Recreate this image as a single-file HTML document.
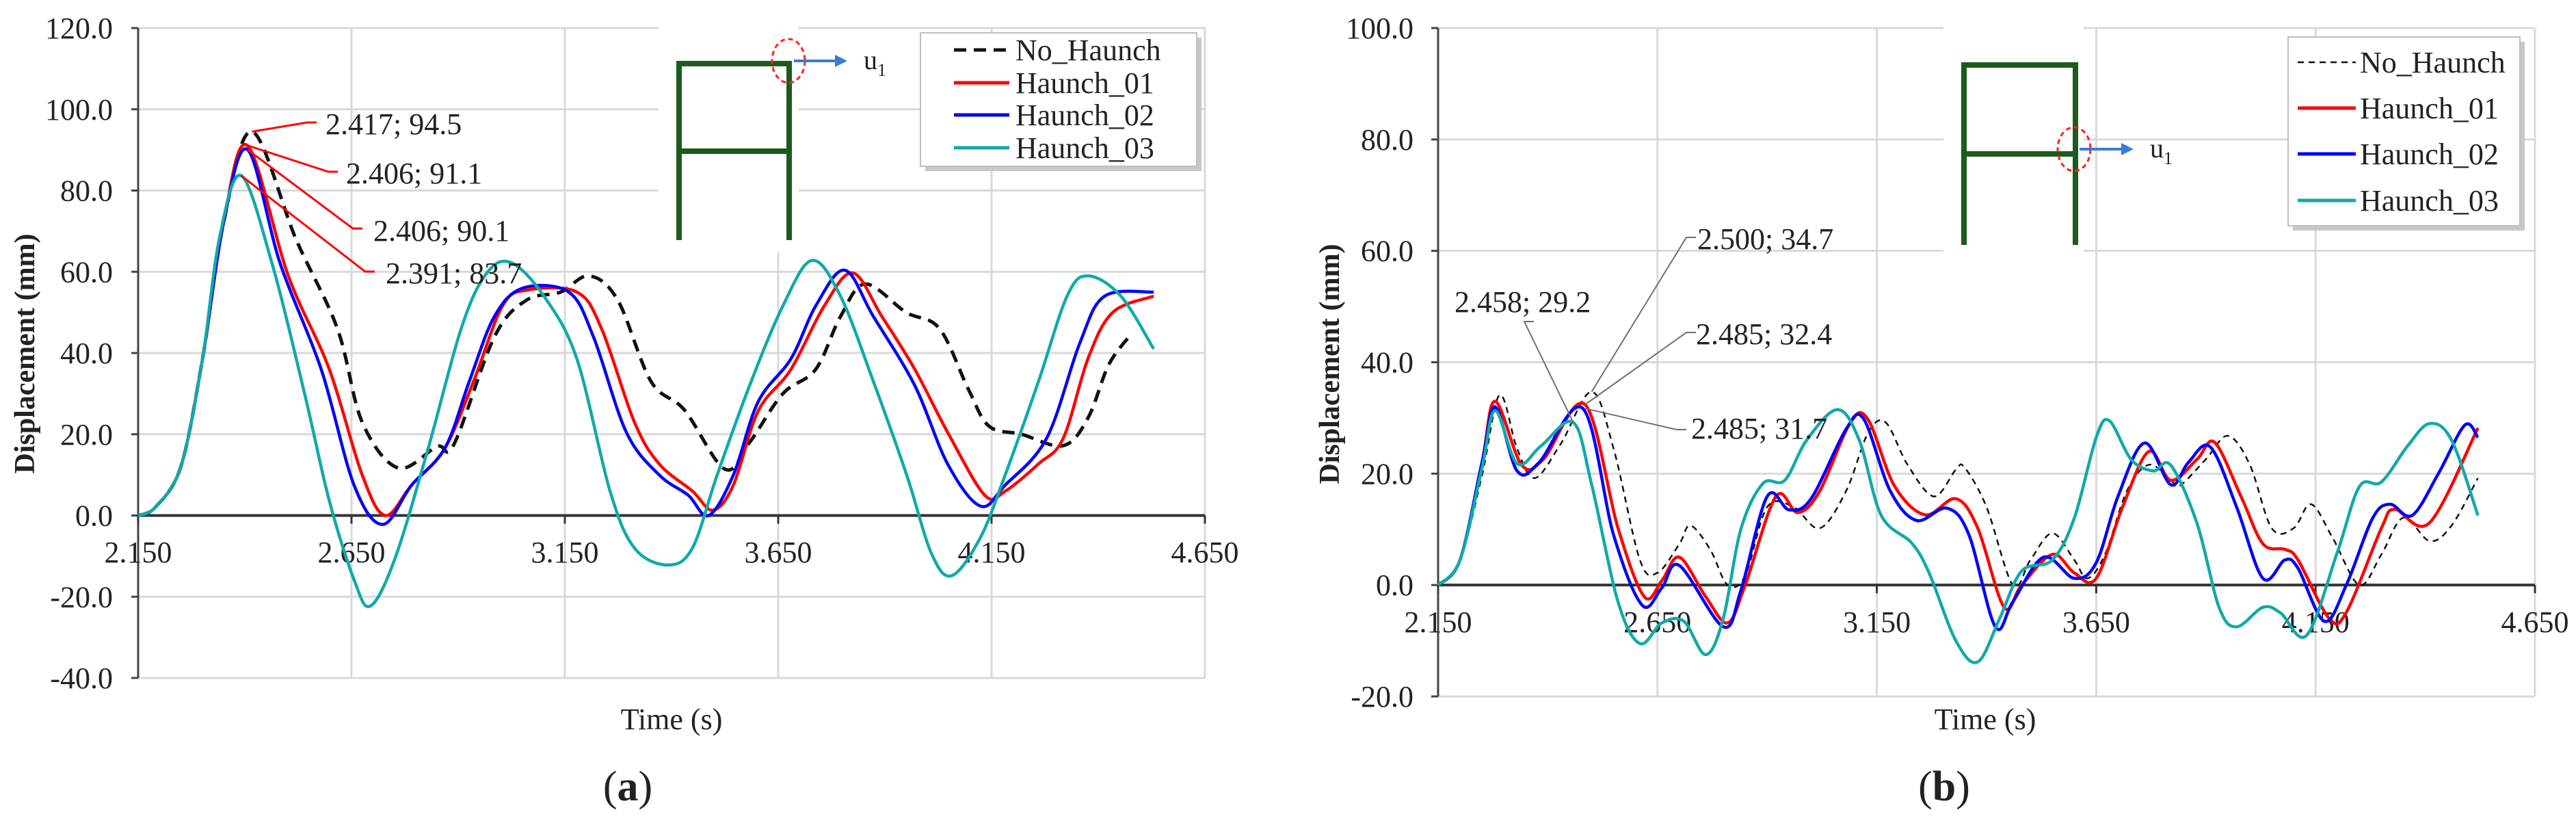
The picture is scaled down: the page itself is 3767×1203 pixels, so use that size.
<!DOCTYPE html>
<html><head><meta charset="utf-8"><style>
html,body{margin:0;padding:0;background:#fff;}
svg{display:block;font-family:"Liberation Serif","DejaVu Serif",serif;}
svg text, svg tspan{font-family:"Liberation Serif","DejaVu Serif",serif;fill:#222;}
</style></head><body>
<svg id="fig" width="3767" height="1203" viewBox="0 0 3767 1203" xmlns="http://www.w3.org/2000/svg" font-family="Liberation Serif, DejaVu Serif, serif"></svg>
<script>
// ---------- Chart (a) data ----------
const xTicks = [2.150, 2.650, 3.150, 3.650, 4.150, 4.650];
const xTickLabels = ["2.150","2.650","3.150","3.650","4.150","4.650"];
const seriesNames = ["No_Haunch","Haunch_01","Haunch_02","Haunch_03"];

const aYTicks = [-40,-20,0,20,40,60,80,100,120];
const aNoT = [2.15,2.19,2.25,2.30,2.35,2.417,2.52,2.617,2.675,2.759,2.85,2.89,2.985,3.06,3.14,3.207,3.274,3.352,3.43,3.525,3.583,3.661,3.738,3.796,3.854,3.95,4.028,4.096,4.144,4.22,4.318,4.376,4.424,4.472];
const aNoV = [0,2,12,38,72,94.5,68,46,23,11.7,17,17.5,44,53,55,59,53,33,26,11.4,18,30,36,49,57,50,46,31,22,20,17.2,24,37,44];
const aH1T = [2.15,2.19,2.25,2.30,2.35,2.406,2.502,2.598,2.675,2.729,2.791,2.869,2.936,3.004,3.062,3.178,3.236,3.313,3.371,3.449,3.497,3.545,3.603,3.68,3.758,3.825,3.893,3.97,4.047,4.134,4.182,4.26,4.318,4.376,4.434,4.53];
const aH1V = [0,2,12,38,72,91.1,59,36,10,0,7.5,16.6,33,51.6,55.5,55,46,23,12.7,6,1.3,7.5,25.7,36,51.6,59.7,49,36,20.5,5,6,12.7,19,38.6,50,54];
const aH2T = [2.15,2.19,2.25,2.30,2.35,2.406,2.483,2.579,2.656,2.723,2.791,2.869,2.926,2.985,3.052,3.159,3.217,3.294,3.371,3.439,3.487,3.545,3.603,3.68,3.738,3.806,3.873,3.97,4.047,4.124,4.182,4.279,4.357,4.415,4.53];
const aH2V = [0,2,12,38,72,90.1,62,36,7.5,-2.2,7.5,16.6,33,49,56,55,44,20.5,10,5,0,10,28,38.6,51.6,60.4,49,32,12.7,2.3,7.5,19,42.5,54,55];
const aH3T = [2.15,2.19,2.25,2.30,2.34,2.391,2.464,2.541,2.598,2.656,2.694,2.752,2.83,2.907,2.965,3.023,3.101,3.178,3.256,3.313,3.391,3.449,3.507,3.583,3.661,3.729,3.796,3.873,3.951,4.009,4.057,4.124,4.182,4.26,4.327,4.376,4.453,4.53];
const aH3V = [0,2,12,38,68,83.7,62,29.6,3.6,-15.8,-22.3,-10.6,16.6,46,59.4,62.3,54,38.6,6,-8,-12.2,-8,10,32,51.6,62.8,54,33,10,-9.3,-14.8,-5.4,10,33,54,59,54,41];
const aAnnT = [2.417,2.406,2.406,2.391];
const aAnnV = [94.5,91.1,90.1,83.7];
const aAnnLabels = ["2.417; 94.5","2.406; 91.1","2.406; 90.1","2.391; 83.7"];

// ---------- Chart (b) data ----------
const bYTicks = [-20,0,20,40,60,80,100];
const bNoT = [2.15,2.2,2.25,2.29,2.33,2.37,2.43,2.50,2.55,2.61,2.65,2.70,2.725,2.77,2.81,2.85,2.90,2.96,3.02,3.08,3.13,3.17,3.22,3.28,3.33,3.35,3.40,3.46,3.50,3.55,3.60,3.63,3.67,3.72,3.77,3.82,3.84,3.90,3.95,4.00,4.05,4.10,4.14,4.19,4.25,4.30,4.35,4.41,4.46,4.52];
const bNoV = [0,4.5,19.7,34.1,24.5,19.2,25.4,34.7,24.5,4.5,2.2,7.4,10.7,6.4,0,1.7,14,14,10.2,16.9,27.3,29.2,21.6,15.9,20.7,21.1,14,0,4.5,9.3,4.5,1.2,5.5,16.9,21.6,18.8,17.8,22.6,26.8,21.6,10.2,10.2,14.5,8.3,0,5.5,12.1,7.9,10.7,19.2];
const bH1T = [2.15,2.2,2.25,2.28,2.34,2.39,2.485,2.56,2.62,2.66,2.70,2.76,2.81,2.85,2.92,2.97,3.02,3.09,3.13,3.19,3.26,3.33,3.38,3.44,3.48,3.55,3.60,3.65,3.71,3.77,3.82,3.88,3.92,3.98,4.03,4.08,4.11,4.18,4.22,4.30,4.33,4.41,4.52];
const bH1V = [0,4.5,22,33,21.6,22.6,32.4,10.2,-2.1,0.8,5,-2.1,-6.8,0,15.9,13,16.9,29.2,29.7,17.8,12.6,15.5,10.2,-4,0,5.5,2.2,1.2,14,24,18.8,22.6,25.6,15.9,7.4,6.4,4.5,-5.9,-4.9,10.2,13.6,11.2,28.2];
const bH2T = [2.15,2.2,2.25,2.28,2.33,2.38,2.48,2.55,2.615,2.66,2.70,2.80,2.84,2.90,2.95,3.00,3.08,3.12,3.18,3.24,3.31,3.36,3.42,3.46,3.53,3.60,3.65,3.70,3.76,3.82,3.86,3.91,3.97,4.03,4.08,4.11,4.17,4.22,4.28,4.32,4.37,4.43,4.49,4.52];
const bH2V = [0,4.5,22,32,20.5,22,31.7,9,-3.6,-0.5,3.5,-7.5,-1,15.9,13.5,15.5,28,29.8,17,11.6,13.8,9,-7.5,-3,5,1.2,4,16,25.5,18,22,24.8,14,1.2,4.5,3,-6.5,0,12,14.5,12.5,20,28.7,26.5];
const bH3T = [2.15,2.2,2.25,2.28,2.33,2.385,2.458,2.50,2.56,2.61,2.66,2.71,2.76,2.80,2.84,2.89,2.94,2.99,3.06,3.11,3.16,3.23,3.27,3.33,3.38,3.43,3.48,3.55,3.60,3.65,3.68,3.73,3.78,3.82,3.88,3.93,3.97,4.03,4.07,4.13,4.20,4.25,4.30,4.36,4.41,4.46,4.52];
const bH3V = [0,4.5,21,31.3,21.8,25,29.2,18,-3,-10.5,-6.8,-6.5,-12.5,-6,10,18.2,18.8,26,31.5,26,12.5,7.5,2,-10,-13.8,-6,2.5,4.5,12,26.5,29.5,22.5,20.5,21.5,11,-4,-7.5,-4,-5,-9,6,17.7,18.5,25,29,26,12.5];
const bAnnT = [2.500,2.458,2.485,2.485];
const bAnnV = [34.7,29.2,32.4,31.7];
const bAnnLabels = ["2.500; 34.7","2.458; 29.2","2.485; 32.4","2.485; 31.7"];

// ---------- rendering ----------
const NS = "http://www.w3.org/2000/svg";
const svg = document.getElementById('fig');
const FF = '"Liberation Serif", "DejaVu Serif", serif';
function mk(tag, attrs, parent) {
  const e = document.createElementNS(NS, tag);
  for (const k in attrs) e.setAttribute(k, attrs[k]);
  if (tag === 'text') e.setAttribute('font-family', FF);
  (parent || svg).appendChild(e);
  return e;
}
function smoothPath(pts) {
  let d = "M" + pts[0][0].toFixed(1) + "," + pts[0][1].toFixed(1);
  for (let i = 0; i < pts.length - 1; i++) {
    const p0 = pts[Math.max(0, i - 1)], p1 = pts[i], p2 = pts[i + 1], p3 = pts[Math.min(pts.length - 1, i + 2)];
    const c1x = p1[0] + (p2[0] - p0[0]) / 6, c1y = p1[1] + (p2[1] - p0[1]) / 6;
    const c2x = p2[0] - (p3[0] - p1[0]) / 6, c2y = p2[1] - (p3[1] - p1[1]) / 6;
    d += " C" + c1x.toFixed(1) + "," + c1y.toFixed(1) + " " + c2x.toFixed(1) + "," + c2y.toFixed(1) + " " + p2[0].toFixed(1) + "," + p2[1].toFixed(1);
  }
  return d;
}
const colors = ["#111", "#ff0000", "#0000ff", "#10aaa8"];

function drawChart(cfg) {
  const g = mk('g', {});
  
  
  const X = t => cfg.x0 + (t - 2.15) / 2.5 * (cfg.x1 - cfg.x0);
  const Y = v => cfg.yTop + (cfg.yMax - v) / (cfg.yMax - cfg.yMin) * (cfg.yBot - cfg.yTop);
  cfg.yTicks.forEach(v => {
    const l = mk('line', {x1: cfg.x0, x2: cfg.x1, y1: Y(v), y2: Y(v), stroke: '#d9d9d9', 'stroke-width': 3}, g);
    
    
  });
  xTicks.forEach((t, i) => {
    if (i === 0) return;
    const l = mk('line', {x1: X(t), x2: X(t), y1: cfg.yTop, y2: cfg.yBot, stroke: '#d9d9d9', 'stroke-width': 3}, g);
    
    
  });
  const ib = mk('rect', {x: cfg.inset.x - 30, y: cfg.yTop - 2, width: 205, height: cfg.inset.bot - cfg.yTop + 20, fill: '#fff'}, g);
  
  
  const ya = mk('line', {x1: cfg.x0, x2: cfg.x0, y1: cfg.yTop, y2: cfg.yBot, stroke: '#444', 'stroke-width': 3}, g);
  
  
  cfg.yTicks.forEach(v => {
    const tk = mk('line', {x1: cfg.x0 - 10, x2: cfg.x0, y1: Y(v), y2: Y(v), stroke: '#444', 'stroke-width': 3}, g);
    
    
    const tx = mk('text', {x: cfg.yLabX, y: Y(v) + 15, 'font-size': 44, 'text-anchor': 'end'}, g);
    tx.textContent = v.toFixed(1);
    
    
  });
  const xa = mk('line', {x1: cfg.x0, x2: cfg.x1, y1: Y(0), y2: Y(0), stroke: '#333', 'stroke-width': 4}, g);
  
  
  xTicks.forEach((t, i) => {
    const tk = mk('line', {x1: X(t), x2: X(t), y1: Y(0), y2: Y(0) + 12, stroke: '#333', 'stroke-width': 3}, g);
    
    
    const tx = mk('text', {x: X(t), y: cfg.xLabY, 'font-size': 44, 'text-anchor': 'middle'}, g);
    tx.textContent = xTickLabels[i];
    
    
  });
  cfg.series.forEach((s, i) => {
    const pts = s.t.map((t, j) => [X(t), Y(s.v[j])]);
    const attrs = {d: smoothPath(pts), fill: 'none', stroke: colors[i], 'stroke-width': i === 0 ? cfg.dashW : 4.5, 'stroke-linejoin': 'round'};
    if (i === 0) attrs['stroke-dasharray'] = cfg.dash;
    const p = mk('path', attrs, g);
    
    
  });
  cfg.annT.forEach((t, i) => {
    const lab = cfg.annPos[i];
    const ln = mk('polyline', {points: X(t) + "," + Y(cfg.annV[i]) + " " + lab[2] + "," + lab[3] + " " + (lab[2] + 14) + "," + lab[3], fill: 'none', stroke: cfg.annColor, 'stroke-width': cfg.annW}, g);
    
    
    const tx = mk('text', {x: lab[0], y: lab[1], 'font-size': 44}, g);
    tx.textContent = cfg.annLabels[i];
    
    
  });
  const fr = mk('g', {stroke: '#1d5a1d', 'stroke-width': 8, fill: 'none'}, g);
  
  
  const I = cfg.inset;
  mk('polyline', {points: `${I.x},${I.bot} ${I.x},${I.top} ${I.x2},${I.top} ${I.x2},${I.bot}`}, fr);
  mk('line', {x1: I.x, x2: I.x2, y1: I.mid, y2: I.mid}, fr);
  const ci = mk('ellipse', {cx: I.cx, cy: I.cy, rx: 24, ry: 32, fill: 'none', stroke: '#ff2020', 'stroke-width': 3, 'stroke-dasharray': '7 5'}, g);
  
  
  const ar = mk('line', {x1: I.cx + 8, x2: I.ax - 14, y1: I.cy, y2: I.cy, stroke: '#3a7bd5', 'stroke-width': 4}, g);
  
  
  mk('polygon', {points: `${I.ax},${I.cy} ${I.ax - 18},${I.cy - 9} ${I.ax - 18},${I.cy + 9}`, fill: '#3a7bd5'}, g);
  const u = mk('text', {x: I.ax + 24, y: I.cy + 12, 'font-size': 40}, g);
  u.innerHTML = 'u<tspan font-size="26" dy="10">1</tspan>';
  
  
  const L = cfg.legend;
  const lg = mk('g', {}, g);
  
  
  mk('rect', {x: L.x + 7, y: L.y + 7, width: L.w, height: L.h, fill: '#c8c8c8'}, lg);
  mk('rect', {x: L.x, y: L.y, width: L.w, height: L.h, fill: '#fff', stroke: '#bfbfbf', 'stroke-width': 2}, lg);
  seriesNames.forEach((n, i) => {
    const yy = L.rows[i];
    const la = {x1: L.lx0, x2: L.lx1, y1: yy, y2: yy, stroke: colors[i], 'stroke-width': i === 0 ? cfg.dashW : 5};
    if (i === 0) la['stroke-dasharray'] = cfg.dash;
    const ll = mk('line', la, lg);
    
    
    const tx = mk('text', {x: L.tx, y: yy + 15, 'font-size': 44}, lg);
    tx.textContent = n;
    
    
  });
  const yt = mk('text', {x: 0, y: 0, 'font-size': 42, 'font-weight': 'bold', 'text-anchor': 'middle', transform: `translate(${cfg.yTitleX},${cfg.yTitleY}) rotate(-90)`}, g);
  yt.textContent = 'Displacement  (mm)';
  
  
  const xt = mk('text', {x: cfg.xTitleX, y: 1066, 'font-size': 44, 'text-anchor': 'middle'}, g);
  xt.textContent = 'Time (s)';
  
  
  const pl = mk('text', {x: cfg.panelX, y: 1170, 'font-size': 62, 'text-anchor': 'middle'}, g);
  pl.innerHTML = '(<tspan font-weight="bold">' + cfg.panel + '</tspan>)';
  
  
}

drawChart({
  name: 'chart-a', panel: 'a', panelX: 918, x0: 202, x1: 1762, yTop: 41, yBot: 991, yMin: -40, yMax: 120,
  yTicks: aYTicks, yLabX: 165, xLabY: 822, dash: '18 11', dashW: 5,
  series: [{t: aNoT, v: aNoV}, {t: aH1T, v: aH1V}, {t: aH2T, v: aH2V}, {t: aH3T, v: aH3V}],
  annT: aAnnT, annV: aAnnV, annLabels: aAnnLabels, annColor: '#ff0000', annW: 3,
  annPos: [[476, 196, 449, 179], [506, 268, 480, 251], [546, 352, 516, 334], [564, 414, 534, 397]],
  inset: {x: 993, x2: 1154, top: 93, mid: 221, bot: 351, cx: 1153, cy: 89, ax: 1239},
  legend: {x: 1346, y: 48, w: 404, h: 195, rows: [73, 121, 168, 216], lx0: 1395, lx1: 1476, tx: 1485},
  yTitleX: 50, yTitleY: 517, xTitleX: 982
});
drawChart({
  name: 'chart-b', panel: 'b', panelX: 2843, x0: 2103, x1: 3707, yTop: 41, yBot: 1018, yMin: -20, yMax: 100,
  yTicks: bYTicks, yLabX: 2067, xLabY: 924, dash: '9 7', dashW: 2.5,
  series: [{t: bNoT, v: bNoV}, {t: bH1T, v: bH1V}, {t: bH2T, v: bH2V}, {t: bH3T, v: bH3V}],
  annT: bAnnT, annV: bAnnV, annLabels: bAnnLabels, annColor: '#707070', annW: 2,
  annPos: [[2482, 364, 2466, 347], [2127, 456, 2229, 470], [2480, 503, 2466, 486], [2473, 641, 2452, 628]],
  inset: {x: 2872, x2: 3035, top: 95, mid: 225, bot: 358, cx: 3033, cy: 218, ax: 3120},
  legend: {x: 3346, y: 54, w: 339, h: 276, rows: [91, 158, 225, 293], lx0: 3360, lx1: 3445, tx: 3451},
  yTitleX: 1958, yTitleY: 532, xTitleX: 2903
});
</script>
</body></html>
